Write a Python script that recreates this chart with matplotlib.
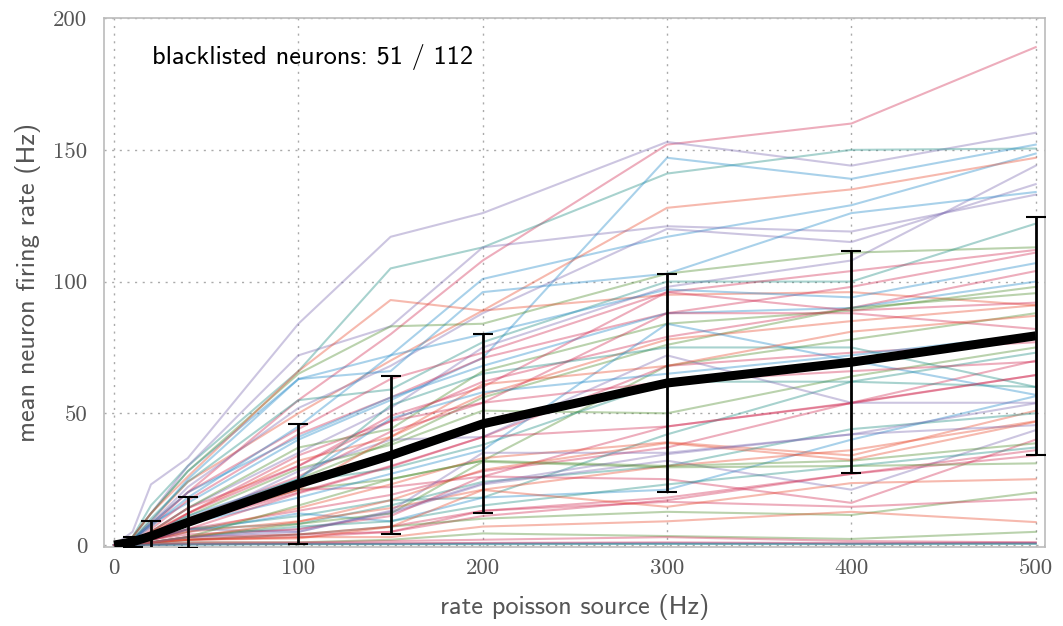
'''Mean firing rate per neuron against poisson source rate'''
import matplotlib
matplotlib.use('Agg')
import matplotlib.pyplot as plt
import numpy as np

RED = '#d02850'
SALMON = '#e8482a'
BLUE = '#1f88c8'
TEAL = '#1a8a80'
GREEN = '#4a8a28'
PURPLE = '#7a68b0'

N_BLACKLISTED = 51
N_TOTAL = 112

rates = [0, 10, 20, 40, 100, 150, 200, 300, 400, 500]

# one entry per neuron that is not blacklisted: (colour, rate at each source rate)
neurons = [
    (RED,    [0, 2, 8, 20, 55, 80, 108, 152, 160, 189]),
    (PURPLE, [0, 5, 23, 33, 84, 117, 126, 153, 144, 156.5]),
    (TEAL,   [0, 3, 15, 30, 66, 105, 113, 141, 150, 150.5]),
    (BLUE,   [0, 2, 8, 16, 40, 55, 71, 147, 139, 152]),
    (BLUE,   [0, 3, 12, 28, 63, 72, 101, 117, 129, 148.6]),
    (SALMON, [0, 2, 9, 24, 50, 70, 89, 128, 135, 147]),
    (PURPLE, [0, 3, 12, 30, 72, 83, 113, 121, 119, 133]),
    (PURPLE, [0, 2, 8, 22, 52, 68, 88, 120, 115, 137]),
    (PURPLE, [0, 1, 5, 14, 35, 52, 75, 98, 108, 144]),
    (BLUE,   [0, 2, 9, 25, 63, 66, 96, 103, 126, 134]),
    (GREEN,  [0, 3, 12, 28, 65, 83, 84, 103, 111, 113]),
    (SALMON, [0, 3, 12, 26, 66, 93, 89, 95, 96, 91]),
    (TEAL,   [0, 2, 10, 24, 55, 59, 77, 100, 100, 122]),
    (RED,    [0, 2, 7, 20, 44, 63, 73, 96, 104, 112]),
    (RED,    [0, 1, 6, 17, 42, 56, 71, 88, 98, 111]),
    (BLUE,   [0, 2, 7, 18, 45, 72, 80, 97, 94, 107]),
    (RED,    [0, 1, 4, 12, 34, 47, 62, 79, 90, 104]),
    (BLUE,   [0, 2, 8, 20, 41, 56, 68, 88, 90, 100]),
    (GREEN,  [0, 1, 5, 14, 37, 44, 66, 84, 89, 98]),
    (GREEN,  [0, 1, 4, 10, 25, 39, 56, 76, 90, 95.6]),
    (RED,    [0, 1, 5, 14, 30, 49, 60, 96, 89, 92]),
    (SALMON, [0, 1, 5, 12, 32, 41, 57, 78, 85, 91]),
    (GREEN,  [0, 1, 3, 9, 21, 25, 32, 68, 78, 88]),
    (RED,    [0, 1, 3, 10, 26, 43, 54, 88, 88, 82]),
    (RED,    [0, 1, 3, 8, 20, 30, 41, 68, 73, 77]),
    (GREEN,  [0, 1, 4, 11, 29, 38, 51, 50, 64, 75]),
    (TEAL,   [0, 1, 3, 9, 24, 29, 38, 62, 62, 73]),
    (RED,    [0, 1, 3, 8, 21, 22, 26, 45, 54, 70]),
    (RED,    [0, 0.5, 2, 6, 13, 19, 28, 37, 54, 64.5]),
    (TEAL,   [0, 1, 3, 8, 25, 53, 65, 75, 75, 60]),
    (BLUE,   [0, 1, 3, 8, 18, 27, 36, 84, 70, 57]),
    (TEAL,   [0, 1, 2, 6, 11, 17, 18, 42, 62, 60]),
    (BLUE,   [0, 0.5, 2, 5, 12, 9, 18, 21, 40, 56.5]),
    (PURPLE, [0, 1, 3, 8, 28, 40, 41, 72, 54, 54]),
    (SALMON, [0, 1, 2, 5, 14, 23, 33, 39, 34, 51]),
    (TEAL,   [0, 0.5, 2, 6, 8, 15, 24, 30, 44, 50]),
    (SALMON, [0, 0.5, 2, 5, 9, 14, 21, 30, 36, 47]),
    (PURPLE, [0, 1, 2, 6, 5, 13, 35, 35, 42, 45.5]),
    (PURPLE, [0, 0.5, 1, 3, 6, 12, 23, 32, 21, 43.6]),
    (RED,    [0, 0.5, 2, 4, 6, 11, 26, 25, 16, 40]),
    (GREEN,  [0, 0.5, 1, 3, 15, 25, 32, 30, 32, 38.6]),
    (TEAL,   [0, 0.5, 1, 3, 7, 9, 15, 23, 30, 37]),
    (RED,    [0, 0.5, 1, 3, 4, 5, 13, 18, 27, 36]),
    (RED,    [0, 0.5, 1, 2, 3, 5, 11, 17, 27, 34]),
    (GREEN,  [0, 0.5, 1, 3, 8, 12, 31.6, 29.5, 30, 31]),
    (GREEN,  [0, 0.3, 1, 2, 4, 7, 10, 12.6, 11.4, 20]),
    (RED,    [0, 0.3, 1, 2, 4, 7, 13, 16.4, 14.5, 17.5]),
    (SALMON, [0, 0.3, 1, 2, 3, 3, 7, 9, 12.6, 8.7]),
    (SALMON, [0, 0.3, 1, 2, 2.5, 6.9, 20.9, 14.5, 23.5, 25]),
    (GREEN,  [0, 0.2, 0.5, 1, 1, 2, 4.4, 3.4, 2.3, 5]),
    (RED,    [0, 0.2, 0.5, 1, 1, 1.5, 2, 3, 1.5, 1]),
    (PURPLE, [0, 0, 0, 0.3, 0.5, 0.5, 0.6, 0.7, 0.5, 0.7]),
    (BLUE,   [0, 0, 0, 0.2, 0.4, 0.4, 0.5, 0.5, 0.5, 0.6]),
    (RED,    [0, 0, 0.2, 0.4, 0.6, 0.7, 0.8, 1.0, 0.7, 0.9]),
    (TEAL,   [0, 0, 0.1, 0.2, 0.3, 0.3, 0.3, 0.4, 0.3, 0.4]),
    (RED,    [0, 1, 4, 12, 30, 47, 54, 62, 66, 69.6]),
    (SALMON, [0, 1, 3, 9, 21, 41, 61, 68, 81, 87]),
    (BLUE,   [0, 1, 4, 11, 25, 48, 58, 65, 72, 80]),
    (RED,    [0, 0.5, 2, 6, 19.6, 29.7, 41, 45, 53.8, 64.5]),
    (SALMON, [0, 0.5, 1, 3, 8.8, 17, 28.5, 38.7, 32.3, 46.8]),
    (PURPLE, [0, 0.5, 1, 3, 5, 12.6, 23.4, 34.5, 42, 53.8]),
]

# population mean and standard deviation
mean_rate = [0, 1.2, 3.4, 8.6, 23.2, 34.0, 46.0, 61.5, 69.4, 79.4]
std_rate = [0, 1.8, 5.7, 9.7, 22.8, 30.0, 34.0, 41.5, 42.1, 45.1]


def run():
    fig = plt.figure(figsize=(10.63, 6.26), dpi=100)
    ax = fig.add_axes([0.0978, 0.126, 0.8852, 0.845])

    for color, vals in neurons:
        ax.plot(rates, vals, color=color, alpha=0.38, lw=1.5, zorder=2)

    ax.plot(rates, mean_rate, color='black', lw=6.5, solid_capstyle='butt', zorder=4)
    ax.errorbar(rates[1:], mean_rate[1:], yerr=std_rate[1:], fmt='none',
                ecolor='black', elinewidth=2, capsize=7, capthick=1.5, zorder=5)

    ax.set_xlim(-5.5, 505)
    ax.set_ylim(-0.8, 200)
    ax.set_xticks([0, 100, 200, 300, 400, 500])
    ax.set_yticks([0, 50, 100, 150, 200])
    ax.grid(True, color='#aaaaaa', ls=(0, (1.5, 4)), lw=1)
    for sp in ax.spines.values():
        sp.set_color('#bbbbbb')
        sp.set_linewidth(1.2)
    ax.tick_params(length=0, labelsize=16.5, labelcolor='#555555')
    ax.tick_params(axis='x', pad=8)
    ax.tick_params(axis='y', pad=12)
    for lab in ax.get_xticklabels() + ax.get_yticklabels():
        lab.set_fontfamily('cmr10')

    ax.set_xlabel('rate poisson source (Hz)', fontsize=19, color='#555555',
                  family='cmss10', labelpad=12)
    ax.set_ylabel('mean neuron firing rate (Hz)', fontsize=19, color='#555555',
                  family='cmss10', labelpad=9)
    ax.text(0.051, 0.926, 'blacklisted neurons: %d / %d' % (N_BLACKLISTED, N_TOTAL),
            transform=ax.transAxes, fontsize=19, family='cmss10', va='center')

    fig.savefig('out.png', dpi=100)


if __name__ == '__main__':
    run()
